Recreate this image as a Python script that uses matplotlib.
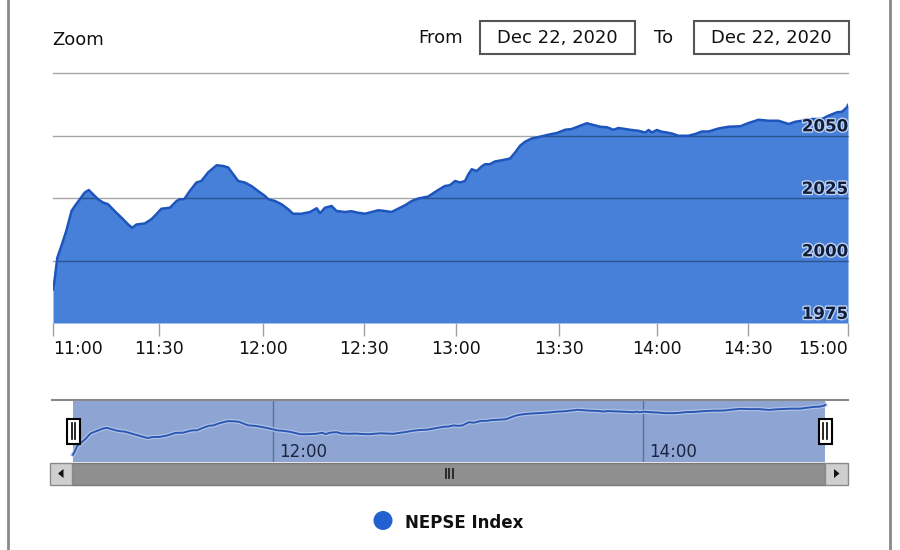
import matplotlib.pyplot as plt
import matplotlib.patheffects as pe
from matplotlib.patches import Rectangle, Circle, Polygon

# NEPSE index on Dec 22, 2020 -- minutes after 11:00
minutes = [0, 0.5, 1.3, 2.5, 4.0, 5.6, 6.6, 8.1, 9.6, 10.8, 12.1, 13.6, 15.1, 16.6,
           18.6, 20.7, 22.7, 23.9, 25.2, 27.7, 29.7, 31.2, 32.7, 35.3, 37.3, 38.3,
           39.6, 41.3, 43.3, 44.8, 46.8, 49.4, 51.4, 52.9, 54.4, 55.9, 57.9, 59.9,
           61.9, 64.0, 65.0, 67.0, 69.0, 71.0, 72.5, 75.0, 77.6, 79.6, 80.6, 82.1,
           84.1, 85.6, 88.1, 90.1, 92.1, 94.2, 96.2, 98.2, 100.2, 102.2, 104.2,
           106.3, 108.3, 110.3, 113.3, 115.8, 118.3, 119.8, 121.4, 122.9, 124.4,
           125.4, 126.4, 127.9, 129.4, 130.4, 131.9, 133.4, 135.5, 138.0, 139.5,
           141.0, 142.5, 144.5, 147.0, 149.5, 152.1, 154.6, 156.6, 159.1, 161.1,
           163.1, 165.2, 167.2, 169.2, 170.7, 172.7, 174.7, 176.7, 178.8, 179.8,
           180.8, 182.3, 183.8, 185.3, 186.8, 188.8, 191.8, 193.9, 195.9, 197.9,
           200.9, 203.9, 207.5, 210.0, 213.0, 216.0, 219.0, 222.1, 224.1, 226.1,
           229.1, 232.1, 234.1, 236.7, 238.2, 239.7, 240]
index_values = [1988.4, 1992.4, 2001.1, 2005.7, 2011.8, 2019.8, 2021.8, 2024.5, 2027.2,
                2028.2, 2026.5, 2024.5, 2023.2, 2022.5, 2019.8, 2017.1, 2014.4, 2013.1,
                2014.4, 2014.8, 2016.5, 2018.5, 2020.7, 2021.1, 2023.8, 2024.5, 2024.5,
                2027.8, 2031.2, 2031.8, 2035.2, 2038.1, 2037.8, 2037.2, 2034.5, 2031.8,
                2031.2, 2029.8, 2027.8, 2025.8, 2024.5, 2023.8, 2022.5, 2020.5, 2018.7,
                2018.7, 2019.4, 2020.9, 2018.9, 2021.1, 2021.8, 2019.8, 2019.4, 2019.7,
                2019.1, 2018.7, 2019.4, 2020.1, 2019.8, 2019.4, 2020.7, 2022.1, 2023.8,
                2024.8, 2025.6, 2027.8, 2029.8, 2030.1, 2031.8, 2031.2, 2031.8, 2034.5,
                2036.5, 2035.8, 2037.6, 2038.5, 2038.5, 2039.6, 2040.1, 2040.8, 2043.2,
                2045.9, 2047.5, 2048.8, 2049.5, 2050.3, 2051.0, 2052.3, 2052.6, 2053.9,
                2054.9, 2054.2, 2053.5, 2053.3, 2052.3, 2053.0, 2052.6, 2052.2, 2051.9,
                2051.2, 2052.2, 2051.2, 2052.2, 2051.5, 2051.2, 2050.8, 2049.9, 2049.9,
                2050.6, 2051.6, 2051.6, 2052.8, 2053.5, 2053.7, 2055.0, 2056.3, 2055.9,
                2055.9, 2054.6, 2055.5, 2055.9, 2056.6, 2056.6, 2057.9, 2059.3, 2059.5,
                2061.3, 2062.2]

# ordinal time axis: ticks are not evenly spaced in the original
tick_minutes = [0, 31.9, 63.4, 93.9, 121.6, 152.8, 182.3, 209.7, 240]
tick_labels = ['11:00', '11:30', '12:00', '12:30', '13:00', '13:30', '14:00', '14:30', '15:00']
y_levels = [1975, 2000, 2025, 2050, 2075]
nav_minutes = [63.8, 181.9]
nav_labels = ['12:00', '14:00']
date_from = 'Dec 22, 2020'
date_to = 'Dec 22, 2020'
series_name = 'NEPSE Index'

W, H = 900, 550
FILL = '#4680d9'
LINE = '#1d55bd'


def px_rect(x0, y0, x1, y1):
    # pixel box (top-left origin) -> figure fraction rect
    return [x0 / W, 1 - y1 / H, (x1 - x0) / W, (y1 - y0) / H]


plt.rcParams['font.family'] = ['DejaVu Sans']
fig = plt.figure(figsize=(9, 5.5), dpi=100)

# main area chart
ax = fig.add_axes(px_rect(53, 73, 848, 323))
ax.fill_between(minutes, index_values, y_levels[0], color=FILL, lw=0, zorder=1)
ax.plot(minutes, index_values, color=LINE, lw=1.8, zorder=3)
for lv in y_levels[1:]:
    ax.axhline(lv, color='black', alpha=0.35, lw=1, zorder=2, clip_on=False)
for lv in y_levels[:-1]:
    ax.annotate(str(lv), xy=(minutes[-1], lv), xytext=(0, 3), textcoords='offset points',
                ha='right', va='baseline', fontsize=12, fontweight='bold', color='#0f1e3c',
                zorder=4, path_effects=[pe.withStroke(linewidth=2, foreground='#bfd0ee')])
ax.set_xlim(minutes[0], minutes[-1])
ax.set_ylim(y_levels[0], y_levels[-1])
ax.set_xticks(tick_minutes)
ax.set_xticklabels(tick_labels)
ax.set_yticks([])
ax.tick_params(axis='x', direction='out', length=9, width=1, color='#a0a0a0',
               labelsize=12.5, pad=3, labelcolor='#111111')
xl = ax.get_xticklabels()
xl[0].set_ha('left')
xl[-1].set_ha('right')
for s in ax.spines.values():
    s.set_visible(False)

# navigator
nav = fig.add_axes(px_rect(52, 400, 848, 462))
nav.set_xlim(-6.7, 247.3)
nav.set_ylim(1977.6, 2069.4)
nav.axvspan(minutes[0], minutes[-1], color='#8ea5d3', lw=0, zorder=0)
for m, lab in zip(nav_minutes, nav_labels):
    nav.axvline(m, color='#5d6f99', lw=1, zorder=1)
    nav.annotate(lab, xy=(m, 0), xycoords=('data', 'axes fraction'), xytext=(4.3, 3.6),
                 textcoords='offset points', ha='left', va='baseline', fontsize=12,
                 color='#1b2540', zorder=3)
nav.plot(minutes, index_values, color='#2b57b3', lw=1.4, zorder=2,
         path_effects=[pe.Stroke(linewidth=3, foreground='#b3c4e8'), pe.Normal()])
nav.set_xticks([])
nav.set_yticks([])
for k, s in nav.spines.items():
    s.set_visible(k == 'top')
nav.spines['top'].set_color('#888888')
nav.spines['top'].set_linewidth(1.5)

# overlay in pixel coordinates for the page chrome
ui = fig.add_axes([0, 0, 1, 1])
ui.set_xlim(0, W)
ui.set_ylim(H, 0)
ui.axis('off')
ui.patch.set_visible(False)
ui.set_zorder(10)

ui.plot([8, 8], [0, H], color='#8a8a8a', lw=2)
ui.plot([890, 890], [0, H], color='#8a8a8a', lw=2)

ui.text(52, 45, 'Zoom', fontsize=13, ha='left', va='baseline', color='#111111')
ui.text(418, 43, 'From', fontsize=13, ha='left', va='baseline', color='#111111')
ui.text(654, 43, 'To', fontsize=13, ha='left', va='baseline', color='#111111')
for x0, txt in [(480, date_from), (694, date_to)]:
    ui.add_patch(Rectangle((x0, 20.5), 155, 33, fc='white', ec='#555555', lw=1.5))
    ui.text(x0 + 77.5, 42.7, txt, fontsize=13, ha='center', va='baseline', color='#111111')

# navigator handles
for hx in (73.3, 825):
    ui.add_patch(Rectangle((hx - 6.5, 418.5), 13, 25, fc='white', ec='black', lw=1.5))
    for dx in (-1.8, 1.8):
        ui.plot([hx + dx, hx + dx], [423, 439], color='black', lw=1.2)

# scrollbar
ui.add_patch(Rectangle((72, 462.5), 753, 22, fc='#8f8f8f', ec='#7a7a7a', lw=1))
ui.add_patch(Rectangle((50, 462.5), 22, 22, fc='#cfcfcf', ec='#8a8a8a', lw=1))
ui.add_patch(Rectangle((825, 462.5), 23, 22, fc='#cfcfcf', ec='#8a8a8a', lw=1))
ui.add_patch(Polygon([(58, 473.5), (63.5, 469), (63.5, 478)], closed=True, fc='#111111', ec='none'))
ui.add_patch(Polygon([(839.5, 473.5), (834, 469), (834, 478)], closed=True, fc='#111111', ec='none'))
for gx in (445.5, 449, 452.5):
    ui.plot([gx, gx], [469, 478], color='#222222', lw=1.3)

# legend
ui.add_patch(Circle((383, 520.5), 9.5, fc='#2261cf', ec='none'))
ui.text(405, 528, series_name, fontsize=12, fontweight='bold', ha='left', va='baseline',
        color='#111111')

fig.savefig('out.png', dpi=100)
